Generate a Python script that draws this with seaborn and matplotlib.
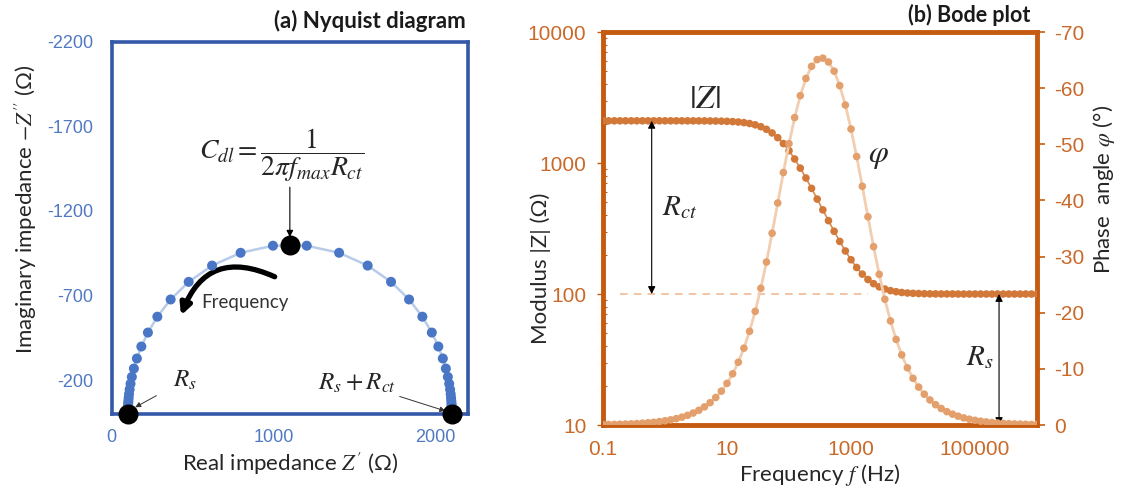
import matplotlib
matplotlib.use('Agg')
import matplotlib.pyplot as plt
import pandas as pd
import seaborn as sns
from matplotlib.patches import FancyArrowPatch
from matplotlib.ticker import FixedLocator, LogLocator, NullFormatter, FuncFormatter

# circuit values (ohm)
rs = 100
rct = 2000

# sweep, 11 points per decade, 0.1 Hz .. 1 MHz
freq_hz = [0.1, 0.1233, 0.152, 0.1874, 0.231, 0.2848, 0.3511, 0.4329, 0.5337, 0.6579, 0.8111,
           1, 1.233, 1.52, 1.874, 2.31, 2.848, 3.511, 4.329, 5.337, 6.579, 8.111,
           10, 12.33, 15.2, 18.74, 23.1, 28.48, 35.11, 43.29, 53.37, 65.79, 81.11,
           100, 123.3, 152, 187.4, 231, 284.8, 351.1, 432.9, 533.7, 657.9, 811.1,
           1000, 1233, 1520, 1874, 2310, 2848, 3511, 4329, 5337, 6579, 8111,
           10000, 12330, 15200, 18740, 23100, 28480, 35110, 43290, 53370, 65790, 81110,
           100000, 123300, 152000, 187400, 231000, 284800, 351100, 432900, 533700, 657900, 811100,
           1000000]

z_real = [2100.0, 2100.0, 2100.0, 2100.0, 2100.0, 2099.9, 2099.9, 2099.9, 2099.9, 2099.8, 2099.8,
          2099.6, 2099.4, 2099.1, 2098.7, 2098.0, 2097.0, 2095.4, 2093.0, 2089.4, 2083.9, 2075.7,
          2063.2, 2044.6, 2017.0, 1976.6, 1918.2, 1836.1, 1724.7, 1580.3, 1404.1, 1204.3, 995.7,
          795.9, 619.7, 475.3, 363.9, 281.8, 223.5, 183.0, 155.4, 136.8, 124.3, 116.1,
          110.6, 107.0, 104.6, 103.0, 102.0, 101.3, 100.9, 100.6, 100.4, 100.2, 100.2,
          100.1, 100.1, 100.1, 100.0, 100.0, 100.0, 100.0, 100.0, 100.0, 100.0, 100.0,
          100.0, 100.0, 100.0, 100.0, 100.0, 100.0, 100.0, 100.0, 100.0, 100.0, 100.0,
          100.0]

z_imag = [-2.7, -3.4, -4.2, -5.1, -6.3, -7.8, -9.6, -11.9, -14.6, -18.0, -22.2,
          -27.4, -33.7, -41.6, -51.3, -63.2, -77.9, -95.9, -118.1, -145.3, -178.7, -219.3,
          -268.7, -328.1, -398.8, -481.3, -575.0, -676.8, -780.9, -877.1, -952.6, -994.5, -994.5,
          -952.6, -877.1, -780.9, -676.8, -575.0, -481.3, -398.8, -328.1, -268.7, -219.3, -178.7,
          -145.3, -118.1, -95.9, -77.9, -63.2, -51.3, -41.6, -33.7, -27.4, -22.2, -18.0,
          -14.6, -11.9, -9.6, -7.8, -6.3, -5.1, -4.2, -3.4, -2.7, -2.2, -1.8,
          -1.5, -1.2, -1.0, -0.8, -0.6, -0.5, -0.4, -0.3, -0.3, -0.2, -0.2,
          -0.1]

z_mod = [2100.0, 2100.0, 2100.0, 2100.0, 2100.0, 2099.9, 2099.9, 2099.9, 2099.9, 2099.9, 2099.9,
         2099.8, 2099.7, 2099.5, 2099.3, 2099.0, 2098.4, 2097.6, 2096.3, 2094.4, 2091.6, 2087.3,
         2080.6, 2070.8, 2056.0, 2034.4, 2002.5, 1956.9, 1893.3, 1807.4, 1696.7, 1561.8, 1407.3,
         1241.3, 1073.9, 914.2, 768.4, 640.3, 530.6, 438.8, 363.0, 301.5, 252.1, 213.1,
         182.6, 159.4, 141.9, 129.1, 120.0, 113.5, 109.1, 106.1, 104.1, 102.7, 101.8,
         101.2, 100.8, 100.5, 100.3, 100.2, 100.1, 100.1, 100.1, 100.0, 100.0, 100.0,
         100.0, 100.0, 100.0, 100.0, 100.0, 100.0, 100.0, 100.0, 100.0, 100.0, 100.0,
         100.0]

phase_deg = [-0.08, -0.09, -0.11, -0.14, -0.17, -0.21, -0.26, -0.32, -0.40, -0.49, -0.61,
             -0.75, -0.92, -1.14, -1.40, -1.72, -2.13, -2.62, -3.23, -3.98, -4.90, -6.03,
             -7.42, -9.12, -11.18, -13.69, -16.69, -20.24, -24.36, -29.03, -34.16, -39.55, -44.97,
             -50.12, -54.76, -58.67, -61.73, -63.89, -65.09, -65.35, -64.66, -63.03, -60.45, -56.99,
             -52.72, -47.82, -42.52, -37.09, -31.77, -26.84, -22.40, -18.54, -15.25, -12.49, -10.19,
             -8.31, -6.75, -5.49, -4.46, -3.62, -2.94, -2.38, -1.93, -1.57, -1.27, -1.03,
             -0.84, -0.68, -0.55, -0.45, -0.36, -0.29, -0.24, -0.19, -0.16, -0.13, -0.10,
             -0.08]

nyq_xticks = [0, 1000, 2000]
nyq_yticks = [-2200, -1700, -1200, -700, -200]
bode_xticks = [0.1, 10, 1000, 100000]
bode_yticks = [10, 100, 1000, 10000]
phase_ticks = [0, -10, -20, -30, -40, -50, -60, -70]

df = pd.DataFrame({'freq': freq_hz, 'zre': z_real, 'zim': z_imag,
                   'zmod': z_mod, 'phase': phase_deg})

sns.set_style('white')
# tick labels look like Arial, the titles / axis labels like Calibri
plt.rcParams['font.family'] = ['Liberation Sans', 'DejaVu Sans']
plt.rcParams['mathtext.fontset'] = 'stix'
plt.rcParams['axes.unicode_minus'] = False
lab_font = ['Lato', 'DejaVu Sans']

blue_frame = '#3459a8'
blue_tick = '#5179c2'
orange_frame = '#c55a11'
orange_tick = '#c9692a'
label_col = '#262626'

fig = plt.figure(figsize=(11.25, 4.95), dpi=100)

# ---------------- (a) Nyquist ----------------
ax1 = fig.add_axes([0.0993, 0.1636, 0.3167, 0.7522])
sns.lineplot(data=df, x='zre', y='zim', sort=False, estimator=None, color='#b8cbe9',
             lw=1.8, ax=ax1, zorder=1)
sns.scatterplot(data=df, x='zre', y='zim', color='#4a76c6', s=52, edgecolor='none',
                ax=ax1, zorder=2)
ax1.scatter([rs, rs + rct / 2, rs + rct], [0, -rct / 2, 0], s=180, color='black',
            zorder=5, clip_on=False)
ax1.set_xlim(0, 2200)
ax1.set_ylim(0, -2200)
ax1.xaxis.set_major_locator(FixedLocator(nyq_xticks))
ax1.yaxis.set_major_locator(FixedLocator(nyq_yticks))
for sp in ax1.spines.values():
    sp.set_visible(True)
    sp.set_color(blue_frame)
    sp.set_linewidth(2.6)
ax1.tick_params(axis='both', direction='out', length=3, width=1, color='#9aa9c8',
                labelcolor=blue_tick, labelsize=13)
ax1.tick_params(axis='x', pad=8)
ax1.tick_params(axis='y', pad=10)
ax1.set_xlabel("Real impedance $Z'$ (Ω)", fontsize=16, color=label_col, labelpad=3,
               family=lab_font)
ax1.set_ylabel("Imaginary impedance $-Z''$ (Ω)", fontsize=16, color=label_col,
               family=lab_font)
ax1.yaxis.set_label_coords(-0.205, 0.55)

# apex marker f_max and its label
ax1.text(rs + rct / 2 - 50, -1530, r'$C_{dl}=\dfrac{1}{2\pi f_{max}R_{ct}}$', ha='center',
         va='center', fontsize=20)
ax1.annotate('', xy=(rs + rct / 2, -rct / 2 - 45), xytext=(rs + rct / 2, -1340),
             arrowprops=dict(arrowstyle='-|>', color='black', lw=0.8, mutation_scale=10,
                             shrinkA=0, shrinkB=0))
ax1.text(824, -656, 'Frequency', fontsize=13.5, ha='center', va='center', color='#333333',
         family=lab_font)
ax1.add_patch(FancyArrowPatch((1022, -804), (422, -567), connectionstyle='arc3,rad=0.55',
                              arrowstyle='-|>', mutation_scale=16, lw=3.8, color='black'))
ax1.annotate(r'$R_s$', xy=(rs + 45, -40), xytext=(453, -201), ha='center', va='center',
             fontsize=18, arrowprops=dict(arrowstyle='-|>', color='#333333', lw=0.7,
                                          mutation_scale=8, shrinkA=11, shrinkB=0))
ax1.annotate(r'$R_s+R_{ct}$', xy=(rs + rct - 40, -18), xytext=(1517, -183), ha='center',
             va='center', fontsize=18,
             arrowprops=dict(arrowstyle='-|>', color='#333333', lw=0.7, mutation_scale=8,
                             shrinkA=50, shrinkB=0))
fig.text(0.414, 0.958, '(a) Nyquist diagram', ha='right', va='center', fontsize=16,
         fontweight='bold', color='#1a1a1a', family=lab_font)

# ---------------- (b) Bode ----------------
ax2 = fig.add_axes([0.536, 0.1414, 0.3858, 0.7939])
ax2.set_xscale('log')
ax2.set_yscale('log')
sns.lineplot(data=df, x='freq', y='zmod', color='#d98a52', lw=1.2, ax=ax2, zorder=2)
sns.scatterplot(data=df, x='freq', y='zmod', color='#d27838', s=30, edgecolor='none',
                ax=ax2, zorder=3)
ax2.hlines(rs, 0.19, 1860, colors='#eeb48c', linestyles=(0, (5, 4)), lw=1.1, zorder=1)
ax2.set_xlim(0.1, 1e6)
ax2.set_ylim(10, 10000)
ax2.xaxis.set_major_locator(FixedLocator(bode_xticks))
ax2.yaxis.set_major_locator(FixedLocator(bode_yticks))
ax2.xaxis.set_minor_locator(LogLocator(base=10, subs=range(1, 10), numticks=30))
ax2.yaxis.set_minor_locator(LogLocator(base=10, subs=range(1, 10), numticks=30))
ax2.xaxis.set_minor_formatter(NullFormatter())
ax2.yaxis.set_minor_formatter(NullFormatter())
fmt = FuncFormatter(lambda v, p: f'{v:g}')
ax2.xaxis.set_major_formatter(fmt)
ax2.yaxis.set_major_formatter(fmt)
for sp in ax2.spines.values():
    sp.set_visible(True)
    sp.set_color(orange_frame)
    sp.set_linewidth(3.5)
ax2.tick_params(axis='both', which='major', direction='out', length=4, width=1,
                color=orange_frame, labelcolor=orange_tick, labelsize=15)
ax2.tick_params(axis='both', which='minor', direction='in', length=3, width=0.8,
                color=orange_frame)
ax2.tick_params(axis='x', pad=7)
ax2.tick_params(axis='y', pad=8)
ax2.set_xlabel('Frequency $f$ (Hz)', fontsize=16, color=label_col, labelpad=2,
               family=lab_font)
ax2.set_ylabel('Modulus |Z| (Ω)', fontsize=16, color=label_col, family=lab_font)
ax2.yaxis.set_label_coords(-0.12, 0.40)

ax3 = ax2.twinx()
sns.lineplot(data=df, x='freq', y='phase', color='#f2cdb0', lw=2.0, ax=ax3, zorder=2)
sns.scatterplot(data=df, x='freq', y='phase', color='#e3a06c', s=30, edgecolor='none',
                ax=ax3, zorder=3)
ax3.set_ylim(0, -70)
ax3.yaxis.set_major_locator(FixedLocator(phase_ticks))
for sp in ax3.spines.values():
    sp.set_visible(False)
ax3.tick_params(axis='y', direction='out', length=6, width=1.2, color=orange_frame,
                labelcolor=orange_tick, labelsize=15, pad=6)
ax3.set_ylabel(r'Phase  angle $\varphi$ (°)', fontsize=16, color=label_col, family=lab_font)
ax3.yaxis.set_label_coords(1.125, 0.60)

ax2.text(4.4, 3030, r'$|Z|$', fontsize=24, ha='center', va='center')
ax3.text(2720, -48, r'$\varphi$', fontsize=23, ha='center', va='center')
ax2.text(1.75, 461, r'$R_{ct}$', fontsize=21, ha='center', va='center')
ax2.text(1.2e5, 33, r'$R_s$', fontsize=21, ha='center', va='center')
ax2.annotate('', xy=(0.61, 2100), xytext=(0.61, rs),
             arrowprops=dict(arrowstyle='<|-|>', color='black', lw=0.8, mutation_scale=11,
                             shrinkA=0, shrinkB=0))
ax2.annotate('', xy=(2.44e5, rs), xytext=(2.44e5, 10),
             arrowprops=dict(arrowstyle='<|-|>', color='black', lw=0.8, mutation_scale=11,
                             shrinkA=0, shrinkB=0))
fig.text(0.9156, 0.970, '(b) Bode plot', ha='right', va='center', fontsize=15.5,
         fontweight='bold', color='#1a1a1a', family=lab_font)

fig.savefig('out.png', dpi=100)
